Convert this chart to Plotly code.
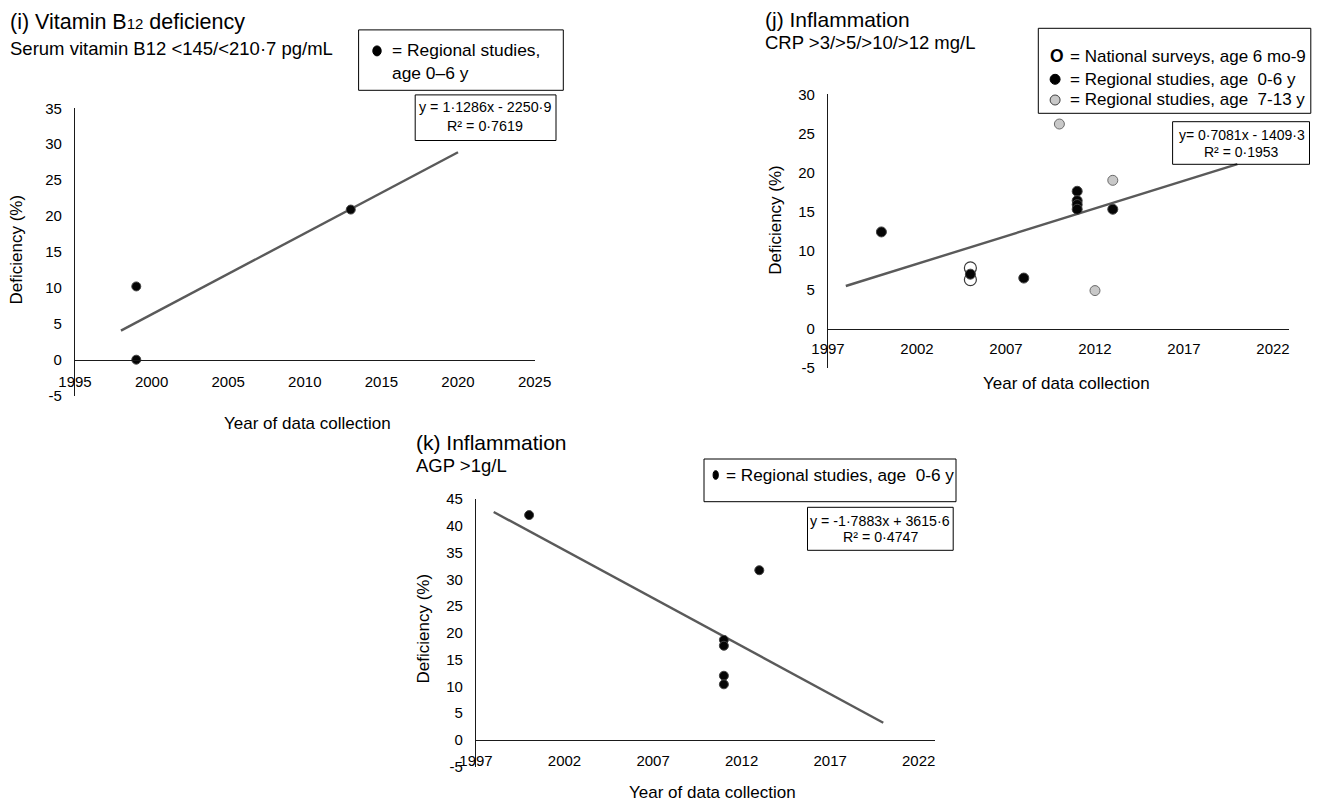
import plotly.graph_objects as go

# page body has an 8px margin: the figure is drawn 8px in from the window corner
OFF = 8
W, H = 1320 - OFF, 802 - OFF
FONT = "Liberation Sans, Arial, sans-serif"

# ---------------- data ----------------
# (i) Vitamin B12 deficiency
b12_years = [1999, 1999, 2013]
b12_values = [10.2, 0.0, 20.9]
b12_trend_coef = [1.1286, -2250.9]
b12_trend_years = [1998, 2020]
b12_xticks = [1995, 2000, 2005, 2010, 2015, 2020, 2025]
b12_yticks = [-5, 0, 5, 10, 15, 20, 25, 30, 35]

# (j) Inflammation, CRP
crp_nat_years = [2005, 2005]
crp_nat_values = [7.8, 6.3]
crp_reg06_years = [2000, 2005, 2008, 2011, 2011, 2011, 2011, 2013]
crp_reg06_values = [12.4, 7.0, 6.5, 17.6, 16.4, 15.9, 15.3, 15.3]
crp_reg713_years = [2010, 2012, 2013]
crp_reg713_values = [26.2, 4.9, 19.0]
crp_trend_coef = [0.7081, -1409.3]
crp_trend_years = [1998, 2020]
crp_xticks = [1997, 2002, 2007, 2012, 2017, 2022]
crp_yticks = [-5, 0, 5, 10, 15, 20, 25, 30]

# (k) Inflammation, AGP
agp_years = [2000, 2011, 2011, 2011, 2011, 2013]
agp_values = [42.0, 18.7, 17.6, 12.0, 10.4, 31.7]
agp_trend_coef = [-1.7883, 3615.6]
agp_trend_years = [1998, 2020]
agp_xticks = [1997, 2002, 2007, 2012, 2017, 2022]
agp_yticks = [-5, 0, 5, 10, 15, 20, 25, 30, 35, 40, 45]

# ---------------- helpers ----------------
def fx(px):
    return (px - OFF) / W

def fy(py):
    return 1 - (py - OFF) / H

TREND = "#5a5a5a"
AXC = "#1a1a1a"

fig = go.Figure()

def trend(coef, yrs, xa, ya):
    xs = list(yrs)
    ys = [coef[0] * x + coef[1] for x in xs]
    fig.add_trace(go.Scatter(x=xs, y=ys, mode="lines", xaxis=xa, yaxis=ya,
                             line=dict(color=TREND, width=2.4), hoverinfo="skip"))

def pts(xs, ys, xa, ya, color, size, lc, lw=1):
    fig.add_trace(go.Scatter(x=xs, y=ys, mode="markers", xaxis=xa, yaxis=ya,
                             marker=dict(color=color, size=size,
                                         line=dict(color=lc, width=lw))))

# (i)
trend(b12_trend_coef, b12_trend_years, "x", "y")
pts(b12_years, b12_values, "x", "y", "#050505", 9, "#444444")
# (j)
trend(crp_trend_coef, crp_trend_years, "x2", "y2")
pts(crp_nat_years, crp_nat_values, "x2", "y2", "rgba(255,255,255,0)", 12, "#3a3a3a", 1.2)
pts(crp_reg06_years, crp_reg06_values, "x2", "y2", "#050505", 10, "#444444")
pts(crp_reg713_years, crp_reg713_values, "x2", "y2", "#c8c8c8", 10, "#6a6a6a")
# (k)
trend(agp_trend_coef, agp_trend_years, "x3", "y3")
pts(agp_years, agp_values, "x3", "y3", "#050505", 9, "#444444")

# panel geometry (window pixels)
panels = {
    "1": dict(x0=75, x1=534.6, xr=[1995, 2025], yb=395.6, yt=108.3, yr=[-5, 35],
              xt=b12_xticks, yt_vals=b12_yticks, xlen=8),
    "2": dict(x0=828, x1=1289, xr=[1997, 2022.9], yb=368, yt=94.3, yr=[-5, 30],
              xt=crp_xticks, yt_vals=crp_yticks, xlen=6),
    "3": dict(x0=476, x1=934.6, xr=[1997, 2022.9], yb=766.8, yt=499, yr=[-5, 45],
              xt=agp_xticks, yt_vals=agp_yticks, xlen=7),
}

tickfont = dict(family=FONT, size=15, color="#000000")
for k, p in panels.items():
    xn = "xaxis" if k == "1" else "xaxis" + k
    yn = "yaxis" if k == "1" else "yaxis" + k
    xref = "x" if k == "1" else "x" + k
    frac0 = (0 - p["yr"][0]) / (p["yr"][1] - p["yr"][0])
    ydom = [fy(p["yb"]), fy(p["yt"])]
    pos = ydom[0] + frac0 * (ydom[1] - ydom[0])
    fig.layout[xn] = dict(domain=[fx(p["x0"]), fx(p["x1"])], range=p["xr"],
                          anchor="free", position=pos, showline=True,
                          linecolor=AXC, linewidth=1.3, showgrid=False,
                          zeroline=False, tickvals=p["xt"],
                          ticktext=[str(v) for v in p["xt"]], ticks="outside",
                          ticklen=p["xlen"], tickcolor="rgba(0,0,0,0)", tickfont=tickfont,
                          automargin=False, fixedrange=True)
    fig.layout[yn] = dict(domain=ydom, range=p["yr"], anchor=xref,
                          showline=True, linecolor=AXC, linewidth=1.3,
                          showgrid=False, zeroline=False, tickvals=p["yt_vals"],
                          ticktext=[str(v) for v in p["yt_vals"]],
                          ticks="outside", ticklen=9, tickcolor="rgba(0,0,0,0)",
                          tickfont=tickfont, automargin=False, fixedrange=True)

annotations = []
shapes = []

def ann(text, xpx, ypx, size, xanchor="left", angle=0, bold=False):
    if bold:
        text = "<b>" + text + "</b>"
    annotations.append(dict(text=text, x=fx(xpx), y=fy(ypx), xref="paper", yref="paper",
                            xanchor=xanchor, yanchor="middle", showarrow=False,
                            textangle=angle,
                            font=dict(family=FONT, size=size, color="#000000")))

def rect(x0, y0, x1, y1):
    shapes.append(dict(type="rect", xref="paper", yref="paper",
                       x0=fx(x0), x1=fx(x1), y0=fy(y1), y1=fy(y0),
                       line=dict(color="#000000", width=1), fillcolor="rgba(0,0,0,0)"))

def dot(cx, cy, rx, ry, fill, lc):
    shapes.append(dict(type="circle", xref="paper", yref="paper",
                       x0=fx(cx - rx), x1=fx(cx + rx), y0=fy(cy + ry), y1=fy(cy - ry),
                       line=dict(color=lc, width=1), fillcolor=fill))

# titles
ann("(i) Vitamin B<span style='font-size:15px'>12</span> deficiency", 8.4, 22.2, 21.5)
ann("Serum vitamin B12 &lt;145/&lt;210·7 pg/mL", 8.4, 49, 18.5)
ann("(j) Inflammation", 763.2, 19.3, 21)
ann("CRP &gt;3/&gt;5/&gt;10/&gt;12 mg/L", 763.2, 42.7, 18.5)
ann("(k) Inflammation", 414.3, 442.7, 21)
ann("AGP &gt;1g/L", 414.3, 466, 18.5)

# axis titles
ann("Deficiency (%)", 16, 249.5, 17, "center", -90)
ann("Year of data collection", 307, 423, 17, "center")
ann("Deficiency (%)", 775.8, 220, 17, "center", -90)
ann("Year of data collection", 1066.5, 383.3, 17, "center")
ann("Deficiency (%)", 423.2, 628.3, 17, "center", -90)
ann("Year of data collection", 712.3, 792.7, 17, "center")

# legend boxes
rect(358.6, 29.9, 563.3, 90.3)
dot(377, 50.9, 4.2, 5, "#000000", "#000000")
ann("= Regional studies,", 389.6, 49.8, 17.4)
ann("age 0–6 y", 389.6, 73.5, 17.4)

rect(1038.3, 28.3, 1310.8, 113.3)
ann("O", 1057.2, 56, 17.5, "center", bold=True)
ann("= National surveys, age 6 mo-9", 1067.7, 56, 17)
dot(1055.1, 79.3, 5, 5, "#000000", "#000000")
ann("= Regional studies, age\u00a0 0-6 y", 1067.7, 79.3, 17)
dot(1055.1, 100, 5, 5, "#c8c8c8", "#404040")
ann("= Regional studies, age\u00a0 7-13 y", 1067.7, 100, 17)

rect(704, 459, 956, 501.7)
dot(715.7, 475, 2.6, 4.3, "#000000", "#000000")
ann("= Regional studies, age\u00a0 0-6 y", 724.3, 475, 17.2)

# equation boxes
rect(415.2, 94.9, 556, 140.5)
ann("y = 1·1286x - 2250·9", 485.4, 107.2, 14.3, "center")
ann("R² = 0·7619", 485.4, 126.3, 14.3, "center")

rect(1172.6, 121.7, 1309.5, 164.3)
ann("y= 0·7081x - 1409·3", 1241.7, 135, 14, "center")
ann("R² = 0·1953", 1241.7, 151.7, 14, "center")

rect(807.5, 507.3, 953.2, 550.3)
ann("y = -1·7883x + 3615·6", 880, 520.7, 14.2, "center")
ann("R² = 0·4747", 880, 536.7, 14.2, "center")

fig.update_layout(width=W, height=H, margin=dict(l=0, r=0, t=0, b=0, autoexpand=False),
                  paper_bgcolor="white", plot_bgcolor="white", showlegend=False,
                  annotations=annotations, shapes=shapes,
                  font=dict(family=FONT, color="#000000"))

fig.write_html("out.html")
